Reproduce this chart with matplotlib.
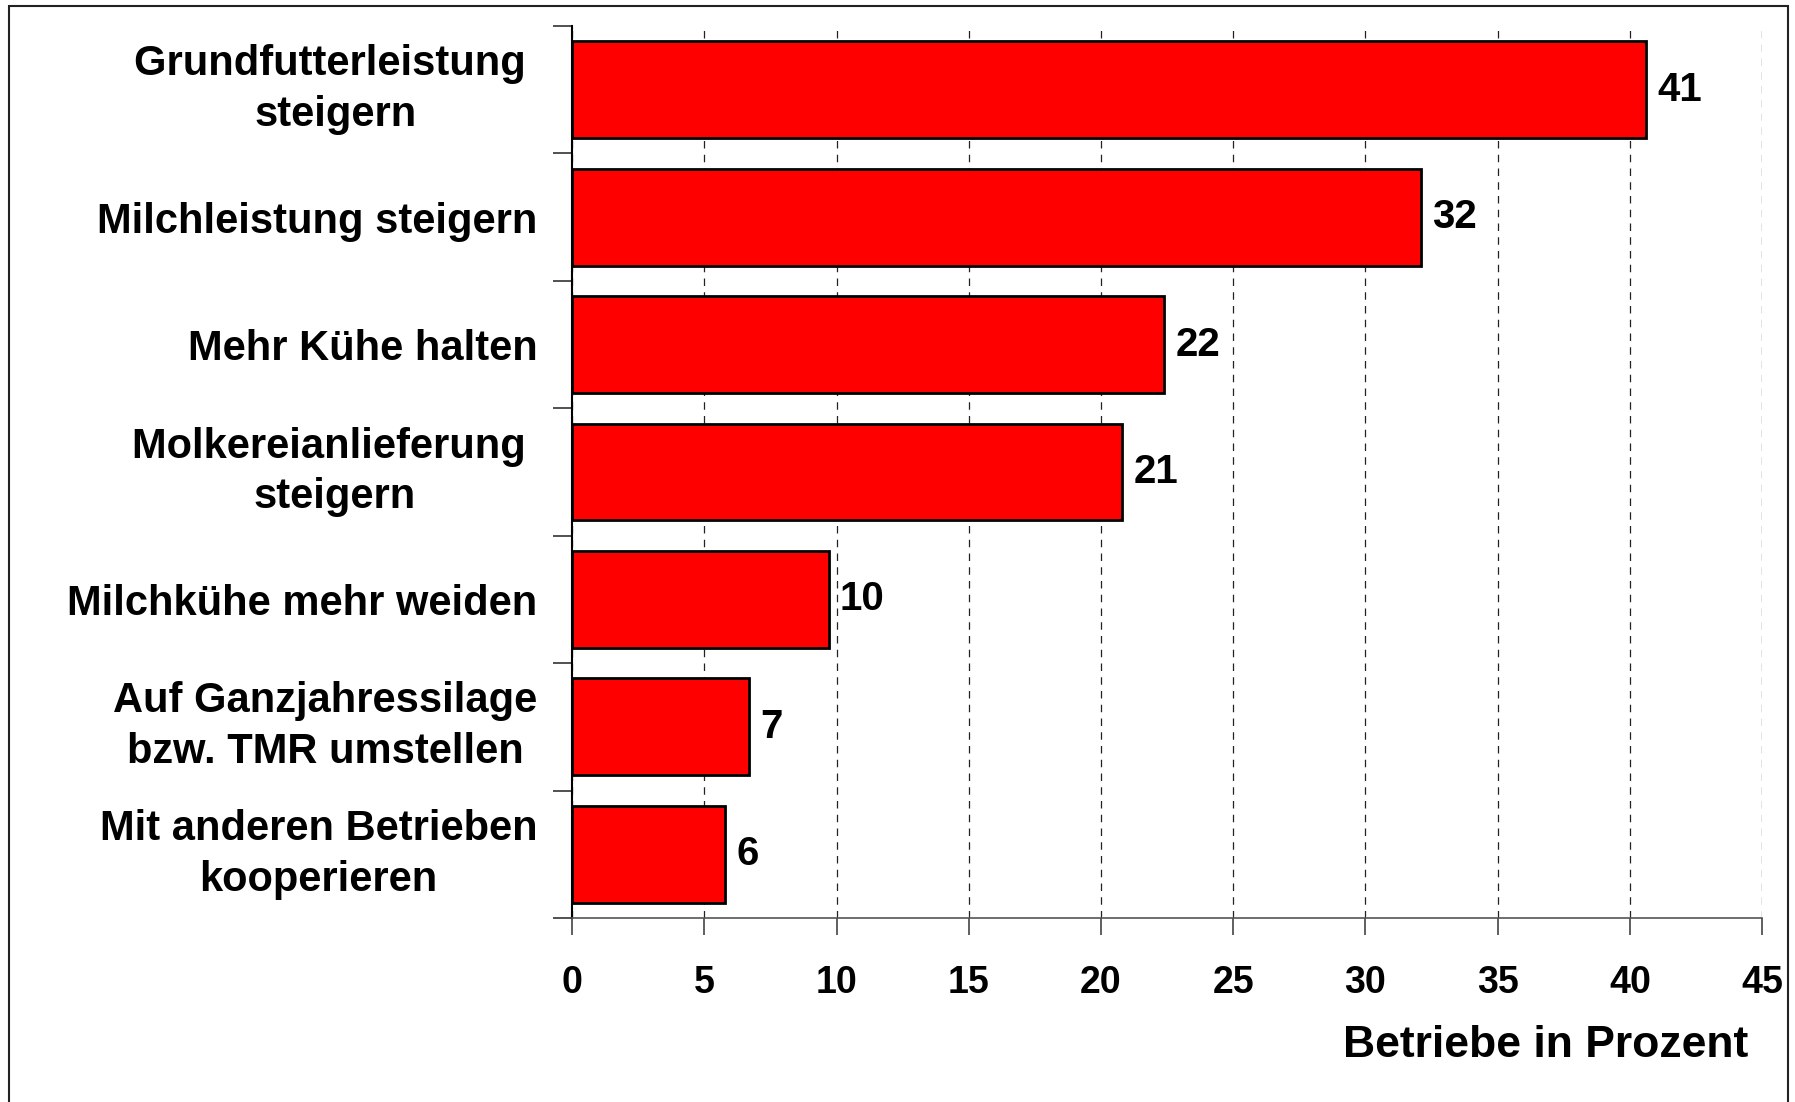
import matplotlib.pyplot as plt
from matplotlib.patches import Rectangle
import numpy as np

categories = [
    'Grundfutterleistung \nsteigern',
    'Milchleistung steigern',
    'Mehr Kühe halten',
    'Molkereianlieferung \nsteigern',
    'Milchkühe mehr weiden',
    'Auf Ganzjahressilage\nbzw. TMR umstellen',
    'Mit anderen Betrieben\nkooperieren',
]
values = [40.6, 32.1, 22.4, 20.8, 9.7, 6.7, 5.8]
value_labels = ['41', '32', '22', '21', '10', '7', '6']
x_ticks = [0, 5, 10, 15, 20, 25, 30, 35, 40, 45]


def main():
    plt.rcParams['font.family'] = ['Liberation Sans', 'DejaVu Sans']
    plt.rcParams['font.weight'] = 'bold'

    fig = plt.figure(figsize=(17.95, 11.02), dpi=100)
    ax = fig.add_axes([0.3187, 0.167, 0.663, 0.8094])

    # frame around the whole chart (bottom edge is cut off in the original)
    fig.patches.append(Rectangle((0.005, -0.05), 0.991, 1.045, transform=fig.transFigure,
                                 fill=False, edgecolor='#222222', linewidth=1.5))

    y = np.arange(len(categories))
    bars = ax.barh(y, values, height=0.76, color='#ff0000', edgecolor='black', linewidth=2)
    ax.bar_label(bars, labels=value_labels, padding=8, fontsize=29, fontweight='bold')

    ax.set_ylim(len(categories) - 0.5, -0.5)
    ax.set_xlim(0, 45)
    ax.set_xticks(x_ticks)
    ax.set_xticklabels([str(t) for t in x_ticks], fontsize=27, fontweight='bold')
    ax.set_yticks(y)
    ax.set_yticklabels(categories, fontsize=30, fontweight='bold',
                       multialignment='center', linespacing=1.35)
    for lbl in ax.get_yticklabels():
        if '\n' in lbl.get_text():
            lbl.set_va('center')
    ax.set_yticks(np.arange(-0.5, len(categories), 1.0), minor=True)

    ax.tick_params(axis='y', which='major', length=0, pad=25)
    ax.tick_params(axis='y', which='minor', length=14, width=1.2, color='#333333', direction='out')
    ax.tick_params(axis='x', length=12, width=1.2, color='#444444', direction='out', pad=22)

    for s in ['top', 'right']:
        ax.spines[s].set_visible(False)
    ax.spines['left'].set_linewidth(1.5)
    ax.spines['left'].set_color('black')
    ax.spines['bottom'].set_linewidth(1.2)
    ax.spines['bottom'].set_color('#555555')

    ax.set_axisbelow(True)
    ax.grid(axis='x', linestyle=(0, (6, 5)), color='#222222', linewidth=0.9)

    ax.set_xlabel('Betriebe in Prozent', fontsize=32, fontweight='bold', loc='right')
    ax.xaxis.set_label_coords(0.988, -0.12)
    ax.xaxis.label.set_va('top')

    fig.savefig('out.png', dpi=100)


if __name__ == '__main__':
    main()
